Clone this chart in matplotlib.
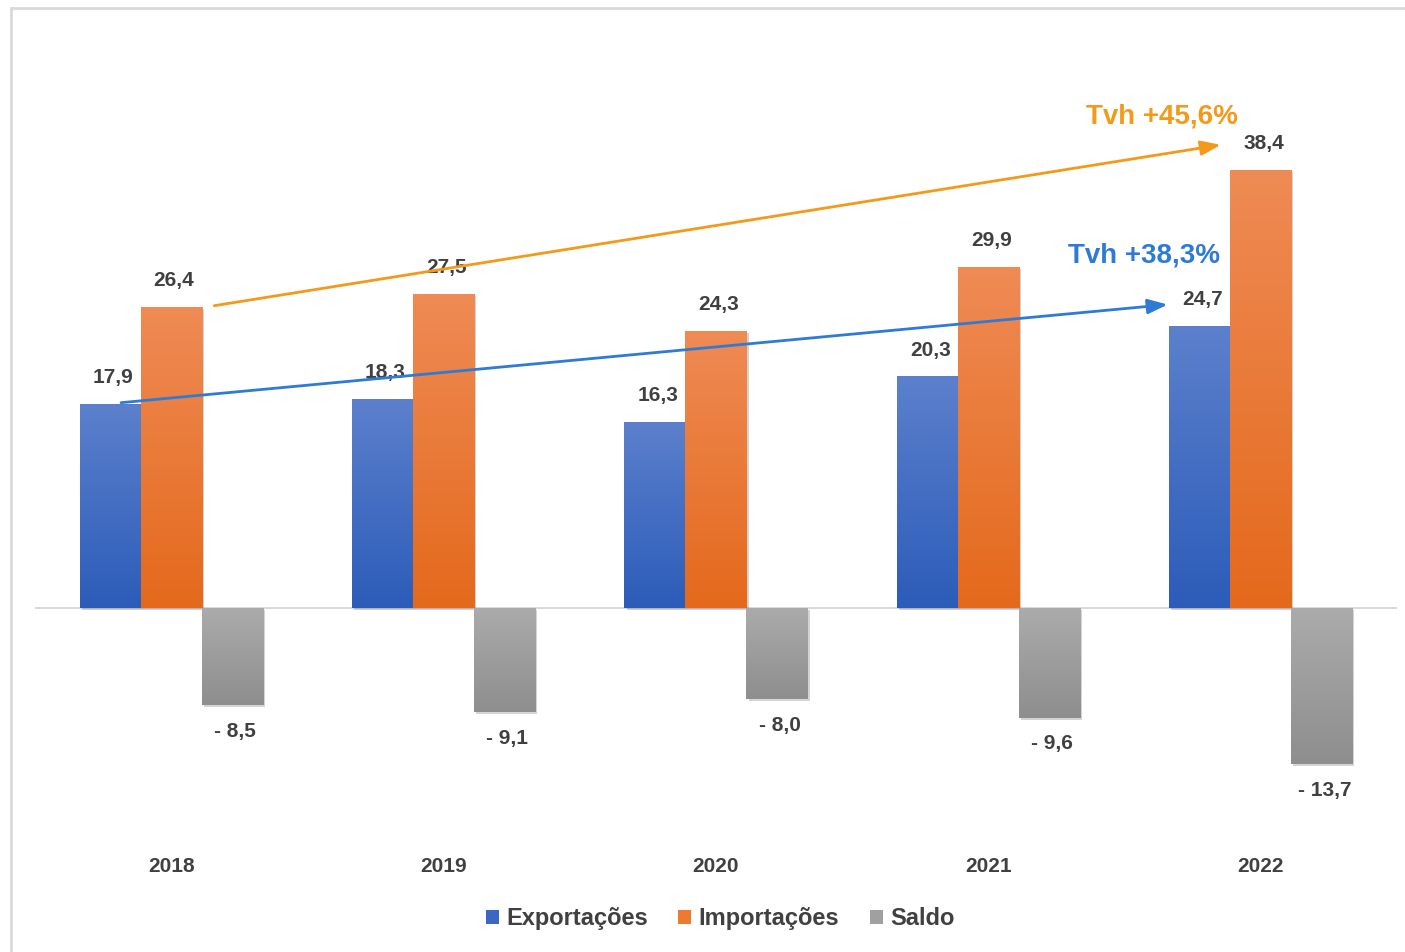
import matplotlib
matplotlib.use("Agg")
import matplotlib.pyplot as plt
import matplotlib.patheffects as pe
import numpy as np
from matplotlib.patches import Rectangle, Patch
from matplotlib.colors import LinearSegmentedColormap

# Data (mil milhões)
years = ["2018", "2019", "2020", "2021", "2022"]
exportacoes = [17.9, 18.3, 16.3, 20.3, 24.7]
importacoes = [26.4, 27.5, 24.3, 29.9, 38.4]
saldo = [-8.5, -9.1, -8.0, -9.6, -13.7]
series_names = ["Exportações", "Importações", "Saldo"]
tvh_imp = "Tvh +45,6%"
tvh_exp = "Tvh +38,3%"

plt.rcParams['font.family'] = ['Liberation Sans', 'DejaVu Sans']

# (bottom colour, top colour) of the gradient for each series
grad_colors = [("#2c5cb9", "#5c80cc"), ("#e4691c", "#ef8b55"), ("#8e8e8e", "#ababab")]
legend_colors = ["#3a66c4", "#ed7a2e", "#a0a0a0"]
label_color = "#404040"

fig = plt.figure(figsize=(14.05, 9.52), dpi=100)
ax = fig.add_axes([0.0249, 0.1216, 0.9694, 0.779])

x = np.arange(len(years))
width = 0.224
offsets = [-width, 0, width]

ax.axhline(0, color="#d9d9d9", lw=1.5, zorder=1)

for vals, off, (c_bot, c_top) in zip([exportacoes, importacoes, saldo], offsets, grad_colors):
    bars = ax.bar(x + off, vals, width, color=c_bot, zorder=3,
                  path_effects=[pe.SimplePatchShadow(offset=(1.5, -1.5), alpha=0.2), pe.Normal()])
    cmap = LinearSegmentedColormap.from_list("g", [c_bot, c_top])
    grad = np.linspace(0, 1, 256).reshape(-1, 1)
    for b in bars:
        x0, y0, bw, bh = b.get_x(), b.get_y(), b.get_width(), b.get_height()
        im = ax.imshow(grad, cmap=cmap, origin="lower", aspect="auto",
                       extent=[x0, x0 + bw, min(y0, y0 + bh), max(y0, y0 + bh)], zorder=4)
        im.set_clip_path(b)
    for b, v in zip(bars, vals):
        if v >= 0:
            txt = f"{v:.1f}".replace(".", ",")
            dy = 19
        else:
            txt = "- " + f"{abs(v):.1f}".replace(".", ",")
            dy = -19
        ax.annotate(txt, (b.get_x() + b.get_width() / 2, v), xytext=(2, dy),
                    textcoords="offset points", ha="center", va="center",
                    fontsize=15, fontweight="bold", color=label_color, zorder=6)

ax.set_xlim(-0.5, 4.5)
ax.set_ylim(-20, 45)
for s in ax.spines.values():
    s.set_visible(False)
ax.set_yticks([])
ax.set_xticks(x, years)
ax.tick_params(axis="x", length=0, pad=15, labelsize=15, labelcolor=label_color)
for t in ax.get_xticklabels():
    t.set_fontweight("bold")

# growth arrows
orange = "#f39a1a"
blue = "#2e7bd6"
ax.annotate("", xy=(3.853, 40.6), xytext=(0.158, 26.5),
            arrowprops=dict(arrowstyle="-|>,head_length=0.8,head_width=0.3",
                            color=orange, lw=2, mutation_scale=15, shrinkA=0, shrinkB=0), zorder=7)
ax.annotate("", xy=(3.658, 26.6), xytext=(-0.184, 18.0),
            arrowprops=dict(arrowstyle="-|>,head_length=0.8,head_width=0.3",
                            color=blue, lw=2, mutation_scale=15, shrinkA=0, shrinkB=0), zorder=7)
ax.text(3.636, 43.1, tvh_imp, color=orange, fontsize=20, fontweight="bold",
        ha="center", va="center", zorder=7)
ax.text(3.570, 30.9, tvh_exp, color=blue, fontsize=20, fontweight="bold",
        ha="center", va="center", zorder=7)

# legend
handles = [Patch(facecolor=c, edgecolor="none") for c in legend_colors]
leg = fig.legend(handles, series_names, loc="center", bbox_to_anchor=(0.5125, 0.0347),
                 ncol=3, frameon=False, handlelength=0.55, handleheight=0.55,
                 handletextpad=0.3, columnspacing=1.3,
                 prop={"size": 17, "weight": "bold"})
for t in leg.get_texts():
    t.set_color(label_color)

# chart frame
fig.patches.append(Rectangle((11 / 1405, -0.05), 1.1, 1 - 8 / 952 + 0.05,
                             transform=fig.transFigure, fill=False,
                             edgecolor="#d9d9d9", lw=2))

fig.savefig("out.png", dpi=100)
